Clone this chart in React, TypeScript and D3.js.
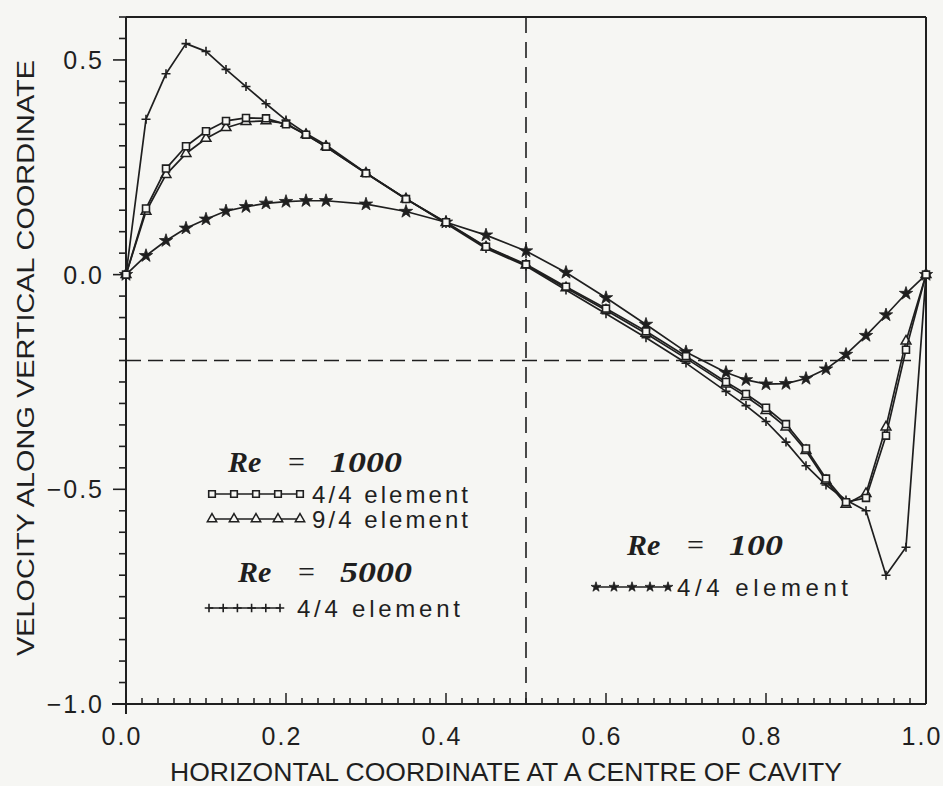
import React from 'react';
import * as d3 from 'd3';

// x positions of the mesh nodes (graded mesh)
const xGrid = [0, 0.025, 0.05, 0.075, 0.1, 0.125, 0.15, 0.175, 0.2, 0.225, 0.25, 0.3, 0.35, 0.4, 0.45, 0.5, 0.55, 0.6, 0.65, 0.7, 0.75, 0.775, 0.8, 0.825, 0.85, 0.875, 0.9, 0.925, 0.95, 0.975, 1.0];
// Re = 1000, 4/4 element (squares)
const re1000El44 = [0, 0.154, 0.247, 0.299, 0.334, 0.358, 0.365, 0.364, 0.35, 0.326, 0.298, 0.236, 0.176, 0.122, 0.065, 0.024, -0.028, -0.079, -0.132, -0.19, -0.25, -0.278, -0.31, -0.348, -0.405, -0.475, -0.53, -0.52, -0.375, -0.175, 0];
// Re = 1000, 9/4 element (triangles)
const re1000El94 = [0, 0.147, 0.233, 0.282, 0.317, 0.342, 0.356, 0.358, 0.352, 0.326, 0.298, 0.236, 0.176, 0.121, 0.064, 0.022, -0.031, -0.083, -0.137, -0.195, -0.255, -0.284, -0.317, -0.355, -0.41, -0.48, -0.535, -0.51, -0.355, -0.155, 0];
// Re = 5000, 4/4 element (plus)
const re5000El44 = [0, 0.362, 0.468, 0.538, 0.52, 0.478, 0.438, 0.398, 0.36, 0.329, 0.302, 0.237, 0.177, 0.119, 0.061, 0.02, -0.036, -0.091, -0.147, -0.206, -0.272, -0.305, -0.342, -0.39, -0.445, -0.49, -0.525, -0.55, -0.7, -0.635, 0];
// Re = 100, 4/4 element (stars)
const re100El44 = [0, 0.044, 0.079, 0.108, 0.129, 0.148, 0.158, 0.166, 0.17, 0.172, 0.172, 0.164, 0.147, 0.122, 0.092, 0.055, 0.005, -0.054, -0.116, -0.18, -0.228, -0.245, -0.255, -0.254, -0.242, -0.22, -0.186, -0.142, -0.094, -0.044, 0];

const xMajorTicks = [0, 0.2, 0.4, 0.6, 0.8, 1.0];
const xTickLabels = ['0.0', '0.2', '0.4', '0.6', '0.8', '1.0'];
const yMajorTicks = [0.5, 0.0, -0.5, -1.0];
const yTickLabels = ['0.5', '0.0', '\u22120.5', '\u22121.0'];
const xTitle = 'HORIZONTAL COORDINATE AT A CENTRE OF CAVITY';
const yTitle = 'VELOCITY ALONG VERTICAL COORDINATE';
const refX = 0.5;
const refY = -0.2;

const W = 943;
const H = 786;
const INK = '#1f1f1f';
const BG = '#f6f6f3';

const x = d3.scaleLinear().domain([0, 1]).range([126, 926]);
const y = d3.scaleLinear().domain([-1, 0.6]).range([704, 17]);

type Kind = 'square' | 'triangle' | 'plus' | 'star';

function Marker({ cx, cy, kind, s = 1 }: { cx: number; cy: number; kind: Kind; s?: number }) {
  if (kind === 'plus') {
    const r = 4.5 * s;
    return <path d={`M${cx - r},${cy}H${cx + r}M${cx},${cy - r}V${cy + r}`} stroke={INK} strokeWidth={1.6} fill="none" />;
  }
  if (kind === 'square') {
    const p = d3.symbol().type(d3.symbolSquare).size(48 * s * s)();
    return <path d={p || ''} transform={`translate(${cx},${cy})`} fill={BG} stroke={INK} strokeWidth={1.6} />;
  }
  if (kind === 'triangle') {
    const p = d3.symbol().type(d3.symbolTriangle).size(42 * s * s)();
    return <path d={p || ''} transform={`translate(${cx},${cy})`} fill={BG} stroke={INK} strokeWidth={1.5} />;
  }
  const p = d3.symbol().type(d3.symbolStar).size(55 * s * s)();
  return <path d={p || ''} transform={`translate(${cx},${cy})`} fill={INK} stroke={INK} strokeWidth={0.8} />;
}

function Series({ values, kind }: { values: number[]; kind: Kind }) {
  const pts: [number, number][] = xGrid.map((xv, i) => [x(xv), y(values[i])]);
  const line = d3.line();
  return (
    <g>
      <path d={line(pts) || ''} fill="none" stroke={INK} strokeWidth={1.7} strokeLinejoin="round" />
      {pts.map(([px, py], i) => (
        <Marker key={i} cx={px} cy={py} kind={kind} />
      ))}
    </g>
  );
}

function LegendLine({ x0, x1, yy, kind, n }: { x0: number; x1: number; yy: number; kind: Kind; n: number }) {
  const step = (x1 - x0) / (n - 1);
  return (
    <g>
      <line x1={x0} x2={x1} y1={yy} y2={yy} stroke={INK} strokeWidth={1.6} />
      {d3.range(n).map((i) => (
        <Marker key={i} cx={x0 + i * step} cy={yy} kind={kind} s={kind === 'star' ? 0.75 : 0.95} />
      ))}
    </g>
  );
}

function ReLabel({ x0, yy, num }: { x0: number; yy: number; num: string }) {
  const f = { fontFamily: '"Liberation Serif", "DejaVu Serif", serif', fontStyle: 'italic', fontWeight: 700, fontSize: 30, fill: INK } as const;
  return (
    <g>
      <text x={x0} y={yy} {...f}>Re</text>
      <text x={x0 + 60} y={yy} {...f} fontStyle="normal" fontWeight={400}>=</text>
      <text x={x0 + 102} y={yy} {...f} textLength={num.length * 18} lengthAdjust="spacingAndGlyphs">{num}</text>
    </g>
  );
}

const sans = '"Liberation Sans", Arial, sans-serif';

export default function App() {
  const xMinor = d3.range(0, 1.0001, 0.02);
  const yMinor = d3.range(-1, 0.6001, 0.05);
  return (
    <svg width={W} height={H} style={{ position: 'absolute', left: 0, top: 0, background: BG }}>
      <rect x={0} y={0} width={W} height={H} fill={BG} />
      {/* reference dashed lines */}
      <line x1={x(refX)} x2={x(refX)} y1={y(0.6)} y2={y(-1)} stroke={INK} strokeWidth={1.6} strokeDasharray="16 9" />
      <line x1={x(0)} x2={x(0.985)} y1={y(refY)} y2={y(refY)} stroke={INK} strokeWidth={1.6} strokeDasharray="15 7" />

      {/* frame */}
      <line x1={x(0)} x2={x(1)} y1={y(0.6)} y2={y(0.6)} stroke={INK} strokeWidth={2} />
      <line x1={x(1)} x2={x(1)} y1={y(0.6)} y2={y(-1)} stroke={INK} strokeWidth={2} />
      <line x1={x(0) - 14} x2={x(1)} y1={y(-1)} y2={y(-1)} stroke={INK} strokeWidth={2} />
      <line x1={x(0)} x2={x(0)} y1={y(0.6)} y2={y(-1) + 10} stroke={INK} strokeWidth={2} />

      {/* y ticks */}
      {yMinor.map((v, i) => {
        const major = yMajorTicks.some((m) => Math.abs(m - v) < 1e-6);
        return <line key={i} x1={x(0) - (major ? 13 : 7)} x2={x(0)} y1={y(v)} y2={y(v)} stroke={INK} strokeWidth={1.6} />;
      })}
      {yMajorTicks.map((v, i) => (
        <text key={i} x={104} y={y(v) + 9} textAnchor="end" fontFamily={sans} fontSize={25} letterSpacing={2} fill={INK}>
          {yTickLabels[i]}
        </text>
      ))}

      {/* x ticks */}
      {xMinor.map((v, i) => {
        const major = xMajorTicks.some((m) => Math.abs(m - v) < 1e-6);
        return <line key={i} x1={x(v)} x2={x(v)} y1={y(-1)} y2={y(-1) - (major ? 11 : 6)} stroke={INK} strokeWidth={1.5} />;
      })}
      {xMajorTicks.map((v, i) => (
        <text key={i} x={x(v) - 4} y={745} textAnchor="middle" fontFamily={sans} fontSize={25} letterSpacing={2} fill={INK}>
          {xTickLabels[i]}
        </text>
      ))}

      {/* axis titles */}
      <text x={506} y={781} textAnchor="middle" fontFamily={sans} fontSize={25} textLength={672} lengthAdjust="spacingAndGlyphs" fill={INK}>
        {xTitle}
      </text>
      <text transform={`translate(34,358) rotate(-90)`} textAnchor="middle" fontFamily={sans} fontSize={24} textLength={596} lengthAdjust="spacingAndGlyphs" fill={INK}>
        {yTitle}
      </text>

      {/* data */}
      <Series values={re100El44} kind="star" />
      <Series values={re5000El44} kind="plus" />
      <Series values={re1000El94} kind="triangle" />
      <Series values={re1000El44} kind="square" />

      {/* legend */}
      <ReLabel x0={228} yy={472} num="1000" />
      <LegendLine x0={212} x1={300} yy={494} kind="square" n={5} />
      <text x={312} y={503} fontFamily={sans} fontSize={24} textLength={156} lengthAdjust="spacing" fill={INK}>4/4 element</text>
      <LegendLine x0={212} x1={300} yy={519} kind="triangle" n={5} />
      <text x={312} y={528} fontFamily={sans} fontSize={24} textLength={156} lengthAdjust="spacing" fill={INK}>9/4 element</text>

      <ReLabel x0={238} yy={582} num="5000" />
      <LegendLine x0={209} x1={280} yy={608} kind="plus" n={6} />
      <text x={297} y={617} fontFamily={sans} fontSize={24} textLength={163} lengthAdjust="spacing" fill={INK}>4/4 element</text>

      <ReLabel x0={627} yy={555} num="100" />
      <LegendLine x0={596} x1={668} yy={587} kind="star" n={5} />
      <text x={677} y={596} fontFamily={sans} fontSize={24} textLength={171} lengthAdjust="spacing" fill={INK}>4/4 element</text>
    </svg>
  );
}
